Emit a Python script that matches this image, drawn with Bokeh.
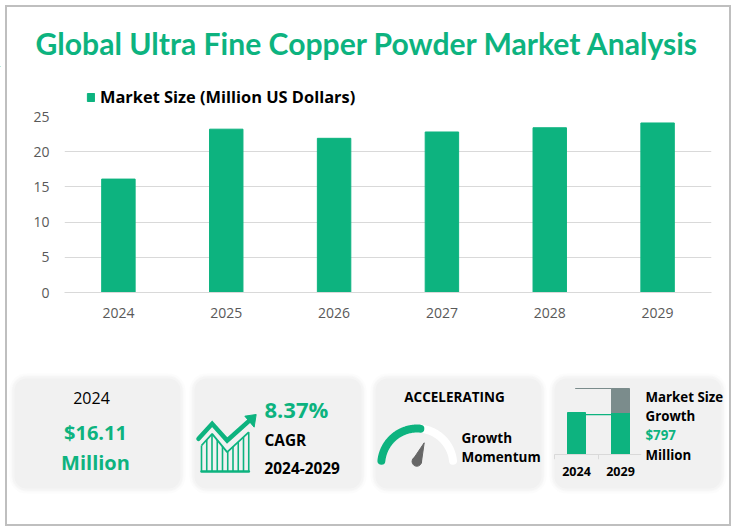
from bokeh.plotting import figure
from bokeh.layouts import column
from bokeh.models import (BoxAnnotation, ColumnDataSource, Label, Legend, LegendItem,
                          Range1d)
from bokeh.embed import file_html
from bokeh.resources import INLINE
import numpy as np

# ---------- data ----------
TITLE = "Global Ultra Fine Copper Powder Market Analysis"
SERIES = "Market Size (Million US Dollars)"
years = ["2024", "2025", "2026", "2027", "2028", "2029"]
market_size = [16.11, 23.2, 21.9, 22.8, 23.4, 24.08]
y_ticks = [0, 5, 10, 15, 20, 25]
mini_years = ["2024", "2029"]
mini_base = [16.11, 16.11]
mini_growth = [0, 9.2]

GREEN = "#0DB37F"
FONT = "Open Sans"
W = 736
H0, H1, H2 = 108, 240, 183       # header, chart, cards: page rows 0-108, 108-348, 348-531

# ---------- header: title and legend ----------
h = figure(width=W, height=H0, x_range=Range1d(0, W), y_range=Range1d(H0, 66),
           output_backend="svg", toolbar_location=None, frame_align=False,
           min_border_left=0, min_border_right=0, min_border_bottom=0, min_border_top=66,
           x_axis_location=None, y_axis_location=None, outline_line_color=None,
           background_fill_color=None, border_fill_color=None)
h.grid.visible = False
h.title.text = TITLE
h.title.text_color = GREEN
h.title.text_font = "Lato"
h.title.text_font_style = "bold"
h.title.text_font_size = "30.1px"
h.title.align = "left"
h.title.offset = 35
h.title.standoff = 11
# the key's swatch; the bar itself lies off this panel's range
swatch = h.vbar(x=[-50], top=[0], bottom=[1], width=1, color=GREEN)
legend = Legend(items=[LegendItem(label=SERIES, renderers=[swatch])], location=(86, 0),
                orientation="horizontal", background_fill_alpha=0, border_line_color=None,
                padding=0, margin=0, glyph_width=9, glyph_height=10, label_standoff=5,
                label_text_font=FONT, label_text_font_style="bold",
                label_text_font_size="16.4px", label_text_color="#000000")
h.add_layout(legend)

# ---------- main chart ----------
p = figure(width=W, height=H1, x_range=years, y_range=Range1d(0, 25),
           output_backend="svg", toolbar_location=None, frame_align=False,
           min_border_left=64, min_border_right=W - 711,
           min_border_top=116 - H0, min_border_bottom=H0 + H1 - 292,
           outline_line_color=None, background_fill_color=None, border_fill_color=None)
src = ColumnDataSource(dict(year=years, size=market_size))
p.vbar(x="year", top="size", bottom=0, width=0.31, color=GREEN, source=src)

p.xgrid.grid_line_color = None
p.ygrid.grid_line_color = "#d9d9d9"
p.ygrid.grid_line_width = 1
for ax in (p.xaxis[0], p.yaxis[0]):
    ax.major_tick_line_color = None
    ax.minor_tick_line_color = None
    ax.major_label_text_color = "#595959"
    ax.major_label_text_font = FONT
    ax.major_label_text_font_size = "14px"
p.yaxis[0].ticker = y_ticks
p.yaxis[0].axis_line_color = None
p.yaxis[0].major_label_standoff = 9
p.xaxis[0].axis_line_color = "#d9d9d9"
p.xaxis[0].major_label_standoff = 9

# ---------- cards (y runs downward, units are page pixels) ----------
TOP2 = H0 + H1
q = figure(width=W, height=H2, x_range=Range1d(0, W), y_range=Range1d(TOP2 + H2, TOP2),
           output_backend="svg", toolbar_location=None, min_border=0, frame_align=False,
           x_axis_location=None, y_axis_location=None, outline_line_color=None,
           background_fill_color=None, border_fill_color=None)
q.grid.visible = False

cards = [(14, 180), (194, 361), (375, 541), (554, 721)]
for l, rr in cards:
    for grow, alpha in [(5, .18), (3, .3), (2, .5), (0, 1)]:
        q.add_layout(BoxAnnotation(left=l - grow, right=rr + grow, top=378 - grow,
                                   bottom=488 + grow, fill_color="#f1f1f1", fill_alpha=alpha,
                                   line_color=None, border_radius=12 + grow, level="underlay"))


def txt(x, y, s, size, color="#000000", bold=True, align="left"):
    q.add_layout(Label(x=x, y=y - 1, text=s, text_font=FONT, text_font_size=f"{size}px",
                       text_font_style="bold" if bold else "normal", text_color=color,
                       text_align=align, text_baseline="middle"))


# card 1
txt(91, 398, "2024", 16, bold=False, align="center")
txt(95, 433, "$16.11", 20, GREEN, align="center")
txt(95, 463, "Million", 20, GREEN, align="center")

# card 2: icon
ix = lambda v: 190 + np.asarray(v, float) / 3
iy = lambda v: 395 + np.asarray(v, float) / 3
profile_x = [33, 65, 110, 175]
profile_y = [150, 115, 170, 110]
hatch = np.arange(33, 176, 15.75)
q.segment(ix(hatch), iy(np.full_like(hatch, 228)), ix(hatch), iy(np.interp(hatch, profile_x, profile_y)),
          line_color=GREEN, line_width=1.6)
q.line(ix(profile_x), iy(profile_y), line_color=GREEN, line_width=1.8)
q.line(ix([33, 175]), iy([228, 228]), line_color=GREEN, line_width=2.5, line_cap="round")
q.line(ix([24, 65, 110, 185]), iy([130, 85, 135, 68]), line_color=GREEN, line_width=4.5, line_cap="round", line_join="miter")
q.patch(ix([163, 197, 191]), iy([62, 57, 95]), color=GREEN)
txt(264, 409, "8.37%", 22, GREEN)
txt(264, 441, "CAGR", 15.4)
txt(264, 468, "2024-2029", 15.4)

# card 3: gauge
cx, cy, rad = 416.7, 464, 36
arc = lambda a0, a1: (cx + rad * np.cos(np.radians(np.linspace(a0, a1, 60))),
                      cy - rad * np.sin(np.radians(np.linspace(a0, a1, 60))))
gx, gy = arc(174, 6)
q.line(gx, gy, line_color="#ffffff", line_width=8, line_cap="round")
gx, gy = arc(174, 85)
q.line(gx, gy, line_color=GREEN, line_width=8, line_cap="round")
q.patch([423.7, 420.8, 412.1], [442.3, 462.5, 459.5], color="#666666")
q.scatter([416.3], [461], size=9.5, color="#666666")
txt(454, 397, "ACCELERATING", 13.5, align="center")
txt(461, 438, "Growth", 13.5)
txt(461, 457, "Momentum", 13.5)

# card 4: mini stacked chart, through its own scales
PX = 42 / 16.11          # pixels per market-size unit
q.extra_y_ranges["mini"] = Range1d((454 - (TOP2 + H2)) / PX, (454 - TOP2) / PX)
q.extra_x_ranges["mini"] = Range1d((0 - 576) / 44, (W - 576) / 44)
mini_x = list(range(len(mini_years)))
mini_top = [b + g for b, g in zip(mini_base, mini_growth)]
q.vbar(x=mini_x, top=mini_base, bottom=0, width=18 / 44, color=GREEN, x_range_name="mini", y_range_name="mini")
q.vbar(x=mini_x[1:], top=mini_top[1:], bottom=mini_base[1:], width=18 / 44, color="#7B8C8C",
       x_range_name="mini", y_range_name="mini")
q.segment([0.2], [mini_base[0] - 0.8], [0.8], [mini_base[0] - 0.8], line_color=GREEN, line_width=1.2,
          x_range_name="mini", y_range_name="mini")
q.segment([-0.03], [mini_top[1]], [0.8], [mini_top[1]], line_color="#7B8C8C", line_width=1,
          x_range_name="mini", y_range_name="mini")
q.segment([-0.5], [0], [1.47], [0], line_color="#d9d9d9", line_width=1, x_range_name="mini", y_range_name="mini")
q.segment([-0.5, 0.5], [0, 0], [-0.5, 0.5], [-1.8, -1.8], line_color="#d9d9d9", line_width=1,
          x_range_name="mini", y_range_name="mini")
txt(576, 472, mini_years[0], 12.5, align="center")
txt(620, 472, mini_years[1], 12.5, align="center")
txt(645, 397, "Market Size", 13.3)
txt(645, 416, "Growth", 13.3)
txt(645, 435, "$797", 13.3, GREEN)
txt(645, 455, "Million", 13.3)

page = column(h, p, q, spacing=0, styles={"outline": "2px solid #bfbfbf", "outline-offset": "-7px"})
open("out.html", "w").write(file_html(page, INLINE))
